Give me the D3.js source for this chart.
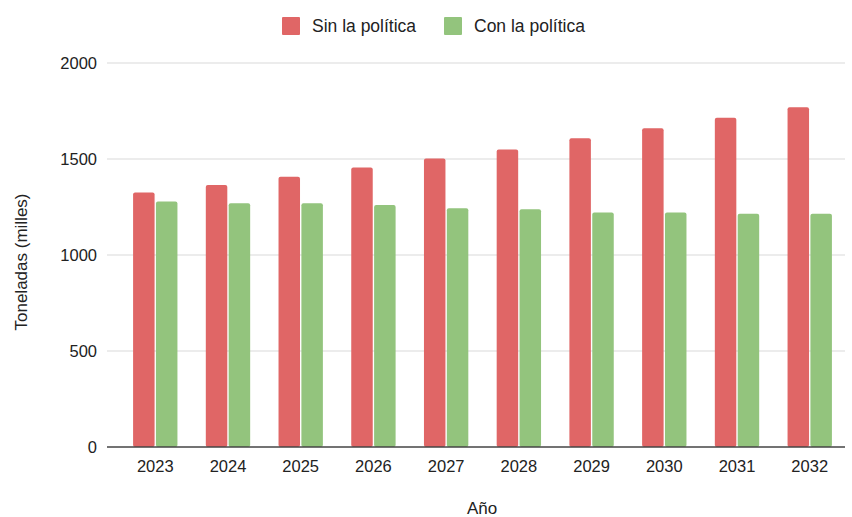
<!DOCTYPE html>
<html>
<head>
<meta charset="utf-8">
<script src="https://cdn.jsdelivr.net/npm/d3@7"></script>
<style>
  body { margin: 0; background: #fff; }
  text { font-family: "Liberation Sans", Arial, sans-serif; fill: #222; }
</style>
</head>
<body>
<div id="chart"></div>
<script>
const years = ["2023", "2024", "2025", "2026", "2027", "2028", "2029", "2030", "2031", "2032"];
const sinPolitica = [1325, 1365, 1408, 1456, 1503, 1550, 1608, 1660, 1715, 1769];
const conPolitica = [1278, 1269, 1269, 1260, 1243, 1238, 1222, 1222, 1215, 1215];
const seriesNames = ["Sin la política", "Con la política"];
const seriesColors = ["#e06666", "#93c47d"];
const yTicks = [0, 500, 1000, 1500, 2000];

const width = 852, height = 517;
const plot = {left: 107, right: 845, top: 63, bottom: 447};

const svg = d3.select("#chart").append("svg")
  .attr("width", width)
  .attr("height", height);

const data = years.map((yr, i) => ({year: yr, values: [sinPolitica[i], conPolitica[i]]}));

const x = d3.scaleBand().domain(years).range([120, 845]).paddingInner(0.39).paddingOuter(0.18);
const xSub = d3.scaleBand().domain([0, 1]).range([0, x.bandwidth()]).paddingInner(0.06);
const y = d3.scaleLinear().domain([0, 2000]).range([plot.bottom, plot.top]);

// gridlines
svg.append("g").selectAll("line")
  .data(yTicks.filter(d => d > 0))
  .join("line")
  .attr("x1", plot.left).attr("x2", plot.right)
  .attr("y1", d => y(d)).attr("y2", d => y(d))
  .attr("stroke", "#d9d9d9").attr("stroke-width", 1);

// y tick labels
svg.append("g").selectAll("text")
  .data(yTicks)
  .join("text")
  .attr("x", 97).attr("y", d => y(d))
  .attr("dy", "0.35em")
  .attr("text-anchor", "end")
  .attr("font-size", 16.5)
  .text(d => d);

// bars
const groups = svg.append("g").selectAll("g")
  .data(data)
  .join("g")
  .attr("transform", d => `translate(${x(d.year)},0)`);

groups.selectAll("rect")
  .data(d => d.values.map((v, i) => ({v, i})))
  .join("rect")
  .attr("x", d => xSub(d.i))
  .attr("width", xSub.bandwidth())
  .attr("y", d => y(d.v))
  .attr("height", d => y(0) - y(d.v))
  .attr("rx", 2)
  .attr("fill", d => seriesColors[d.i]);

// baseline
svg.append("line")
  .attr("x1", plot.left).attr("x2", plot.right)
  .attr("y1", y(0)).attr("y2", y(0))
  .attr("stroke", "#444").attr("stroke-width", 1.5);

// x tick labels
svg.append("g").selectAll("text")
  .data(years)
  .join("text")
  .attr("x", d => x(d) + x.bandwidth() / 2)
  .attr("y", 466)
  .attr("dy", "0.35em")
  .attr("text-anchor", "middle")
  .attr("font-size", 16.5)
  .text(d => d);

// axis titles
svg.append("text")
  .attr("x", 482).attr("y", 508)
  .attr("dy", "0.35em")
  .attr("text-anchor", "middle")
  .attr("font-size", 17)
  .text("Año");

svg.append("text")
  .attr("transform", "translate(21,262) rotate(-90)")
  .attr("dy", "0.35em")
  .attr("text-anchor", "middle")
  .attr("font-size", 17)
  .text("Toneladas (milles)");

// legend
const legendX = [282, 444];
const legend = svg.append("g").selectAll("g")
  .data(seriesNames)
  .join("g")
  .attr("transform", (d, i) => `translate(${legendX[i]},17)`);

legend.append("rect")
  .attr("width", 18).attr("height", 18)
  .attr("rx", 1)
  .attr("fill", (d, i) => seriesColors[i]);

legend.append("text")
  .attr("x", 30).attr("y", 9)
  .attr("dy", "0.35em")
  .attr("font-size", 17.5)
  .text(d => d);
</script>
</body>
</html>
